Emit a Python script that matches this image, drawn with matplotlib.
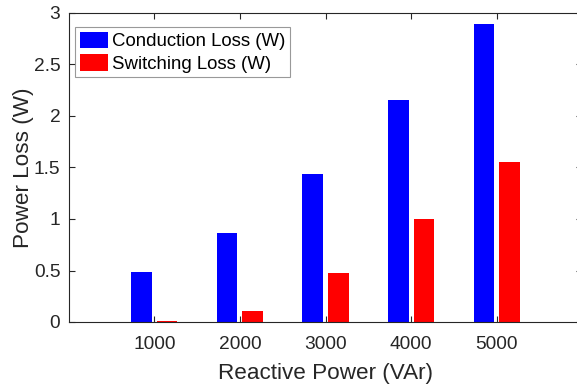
import numpy as np
import matplotlib
matplotlib.use("Agg")
from matplotlib import pyplot as plt

plt.rcParams['font.family'] = ['Liberation Sans', 'DejaVu Sans']

reactive_power = [1000, 2000, 3000, 4000, 5000]
conduction_loss = [0.49, 0.86, 1.44, 2.16, 2.89]
switching_loss = [0.01, 0.11, 0.48, 1.00, 1.55]

ink = '#262626'
bar_w = 240
shift = 150

fig = plt.figure(figsize=(5.77, 3.85), dpi=100)
ax = fig.add_axes([68.7 / 577, 1 - 322 / 385, 513.6 / 577, 309 / 385])

x = np.array(reactive_power)
ax.bar(x - shift, conduction_loss, width=bar_w, color='#0000ff', label='Conduction Loss (W)')
ax.bar(x + shift, switching_loss, width=bar_w, color='#ff0000', label='Switching Loss (W)')

ax.set_xlim(0, 6000)
ax.set_ylim(0, 3)
ax.set_xticks(reactive_power)
ax.set_yticks([0, 0.5, 1, 1.5, 2, 2.5, 3])
ax.set_yticklabels(['0', '0.5', '1', '1.5', '2', '2.5', '3'])

ax.tick_params(direction='in', length=4, width=0.8, colors=ink, labelsize=13.8,
               top=True, right=True)
ax.tick_params(axis='x', pad=10)
ax.tick_params(axis='y', pad=6)
for s in ax.spines.values():
    s.set_color(ink)
    s.set_linewidth(0.8)

ax.set_xlabel('Reactive Power (VAr)', fontsize=16.2, color=ink, labelpad=7)
ax.set_ylabel('Power Loss (W)', fontsize=16.2, color=ink, labelpad=0)

leg = ax.legend(loc='upper left', bbox_to_anchor=(75 / 577, 1 - 27 / 385),
                bbox_transform=fig.transFigure, borderaxespad=0,
                fontsize=13.4, frameon=True, fancybox=False,
                edgecolor='#808080', borderpad=0.25, handlelength=1.5, handleheight=1.0,
                handletextpad=0.25, labelspacing=0.2)
leg.get_frame().set_linewidth(0.8)
for t in leg.get_texts():
    t.set_color('black')

fig.savefig('out.png', dpi=100)
